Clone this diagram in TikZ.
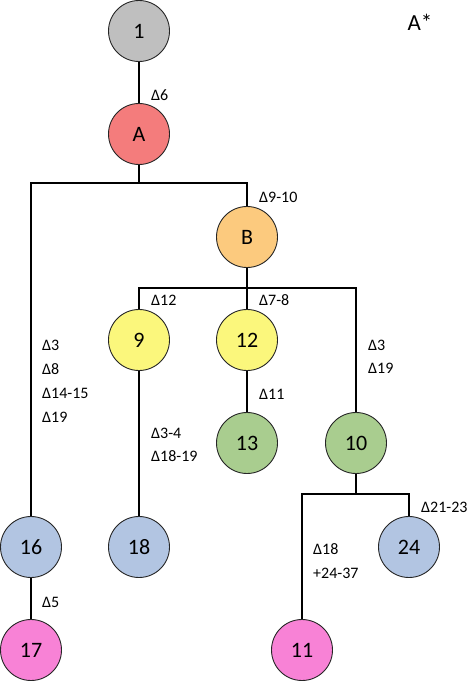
\documentclass[tikz,border=0pt]{standalone}
\usepackage{fontspec}
\setmainfont{Carlito}
\definecolor{cgray}{HTML}{BFBFBF}
\definecolor{cred}{HTML}{F47C7C}
\definecolor{corange}{HTML}{FCCA7E}
\definecolor{cyellow}{HTML}{FBF77C}
\definecolor{cgreen}{HTML}{A9CD8F}
\definecolor{cblue}{HTML}{B2C5E2}
\definecolor{cpink}{HTML}{F882D6}
\begin{document}
\begin{tikzpicture}[x=1pt,y=-1pt,
  vert/.style={circle,draw=black!85,line width=0.9pt,minimum size=61pt,inner sep=0pt,font=\fontsize{22}{24}\selectfont},
  lab/.style={anchor=west,inner sep=0pt,font=\fontsize{16}{18}\selectfont},
  edge/.style={line width=2pt,black}]
\useasboundingbox (0,0) rectangle (467,682);
\node[vert,fill=cgray] (n1) at (139,31) {1};
\node[vert,fill=cred] (nA) at (139,134) {A};
\node[vert,fill=corange] (nB) at (247,237) {B};
\node[vert,fill=cyellow] (n9) at (139,340) {9};
\node[vert,fill=cyellow] (n12) at (247,340) {12};
\node[vert,fill=cgreen] (n13) at (247,443) {13};
\node[vert,fill=cgreen] (n10) at (356,443) {10};
\node[vert,fill=cblue] (n16) at (31,547) {16};
\node[vert,fill=cblue] (n18) at (139,547) {18};
\node[vert,fill=cblue] (n24) at (409,547) {24};
\node[vert,fill=cpink] (n17) at (31,650) {17};
\node[vert,fill=cpink] (n11) at (302,650) {11};
\coordinate (jA) at (139,183);
\coordinate (jB) at (247,288);
\coordinate (j10) at (356,494);
\draw[edge] (n1) -- (nA);
\draw[edge] (nA) -- (jA);
\draw[edge] (jA) -| (n16);
\draw[edge] (jA) -| (nB);
\draw[edge] (nB) -- (jB);
\draw[edge] (jB) -| (n9);
\draw[edge] (jB) -- (n12);
\draw[edge] (jB) -| (n10);
\draw[edge] (n12) -- (n13);
\draw[edge] (n9) -- (n18);
\draw[edge] (n16) -- (n17);
\draw[edge] (n10) -- (j10);
\draw[edge] (j10) -| (n11);
\draw[edge] (j10) -| (n24);
% labels
\node[anchor=center,inner sep=0pt,font=\fontsize{23}{25}\selectfont] (title) at (420,22) {A*};
\node[lab] (l6) at (151,95) {Δ6};
\node[lab] (l910) at (259,197) {Δ9-10};
\node[lab] (l12) at (151,300) {Δ12};
\node[lab] (l78) at (259,300) {Δ7-8};
\node[lab] (la1) at (42,345) {Δ3};
\node[lab] (la2) at (42,369) {Δ8};
\node[lab] (la3) at (42,393) {Δ14-15};
\node[lab] (la4) at (42,417) {Δ19};
\node[lab] (lb1) at (368,345) {Δ3};
\node[lab] (lb2) at (368,368) {Δ19};
\node[lab] (l11) at (259,394) {Δ11};
\node[lab] (lc1) at (151,433) {Δ3-4};
\node[lab] (lc2) at (151,456) {Δ18-19};
\node[lab] (l2123) at (421,507) {Δ21-23};
\node[lab] (ld1) at (313,549) {Δ18};
\node[lab] (ld2) at (313,573) {+24-37};
\node[lab] (l5) at (42,602) {Δ5};
\end{tikzpicture}
\end{document}
